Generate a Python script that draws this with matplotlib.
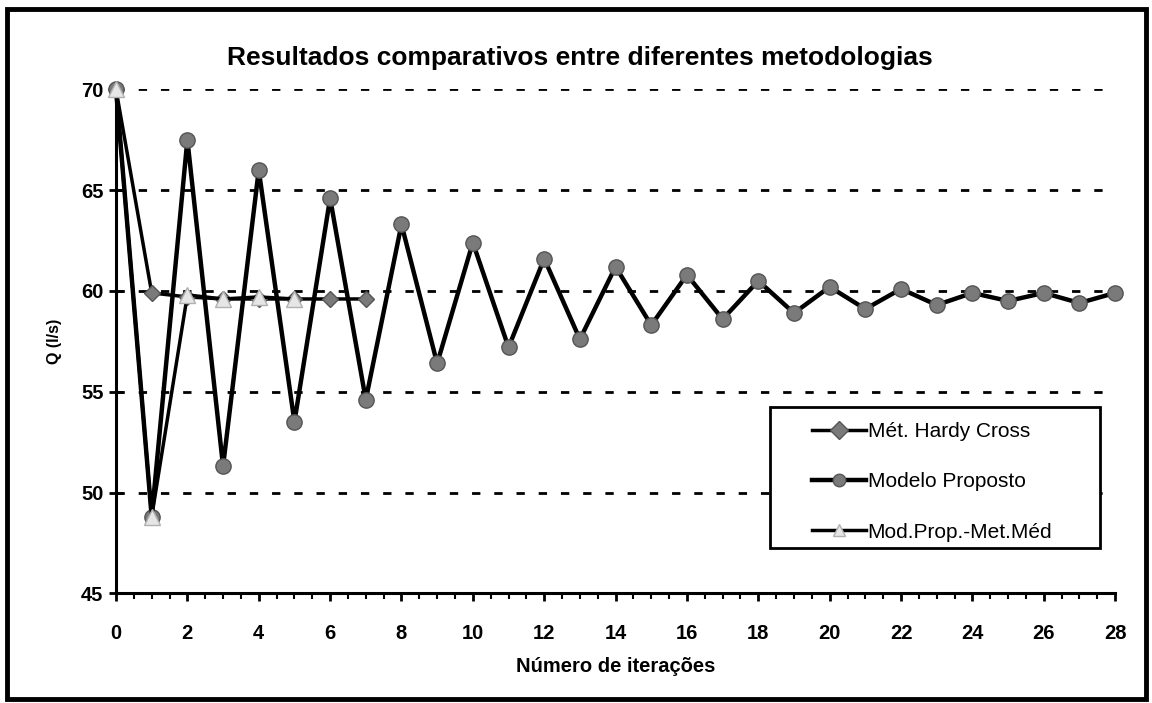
import matplotlib
matplotlib.use("Agg")
import matplotlib.pyplot as plt
from matplotlib.patches import Rectangle

plt.rcParams['font.family'] = ['Liberation Sans', 'DejaVu Sans']

title = "Resultados comparativos entre diferentes metodologias"
xlabel = "Número de iterações"
ylabel = "Q (l/s)"

x_hc = [0, 1, 2, 3, 4, 5, 6, 7]
y_hc = [70.0, 59.9, 59.7, 59.6, 59.6, 59.6, 59.6, 59.6]

x_mp = list(range(29))
y_mp = [70.0, 48.8, 67.5, 51.3, 66.0, 53.5, 64.6, 54.6, 63.3, 56.4,
        62.4, 57.2, 61.6, 57.6, 61.2, 58.3, 60.8, 58.6, 60.5, 58.9,
        60.2, 59.1, 60.1, 59.3, 59.9, 59.5, 59.9, 59.4, 59.9]

x_mm = [0, 1, 2, 3, 4, 5]
y_mm = [70.0, 48.8, 59.8, 59.6, 59.7, 59.6]

labels = ["Mét. Hardy Cross", "Modelo Proposto", "Mod.Prop.-Met.Méd"]

fig = plt.figure(figsize=(11.52, 7.03), dpi=100)
ax = fig.add_axes([0.1007, 0.156, 0.8673, 0.717])

ax.plot(x_hc, y_hc, color='black', lw=2.5, marker='D', markersize=8,
        markerfacecolor='#7a7a7a', markeredgecolor='#555555', label=labels[0],
        zorder=3, clip_on=False)
ax.plot(x_mp, y_mp, color='black', lw=3.2, marker='o', markersize=11,
        markerfacecolor='#7a7a7a', markeredgecolor='#555555', label=labels[1],
        zorder=4, clip_on=False)
ax.plot(x_mm, y_mm, color='black', lw=2.5, marker='^', markersize=11,
        markerfacecolor='#e6e6e6', markeredgecolor='#b0b0b0', label=labels[2],
        zorder=5, clip_on=False)

ax.set_xlim(0, 28)
ax.set_ylim(45, 70)
ax.set_xticks(range(0, 29, 2))
ax.set_xticks([i * 0.5 for i in range(57)], minor=True)
ax.set_yticks([45, 50, 55, 60, 65, 70])

for s in ['top', 'right']:
    ax.spines[s].set_visible(False)
for s in ['left', 'bottom']:
    ax.spines[s].set_linewidth(2.2)
    ax.spines[s].set_clip_on(False)

ax.tick_params(axis='x', which='major', direction='out', length=6, width=2, labelsize=14.5, pad=16)
ax.tick_params(axis='x', which='minor', direction='out', length=4, width=1.5)
ax.tick_params(axis='y', which='major', direction='inout', length=10, width=2, labelsize=14.5, pad=4)
for lab in ax.get_xticklabels() + ax.get_yticklabels():
    lab.set_fontweight('bold')

ax.yaxis.grid(True, linestyle=(0, (3, 5)), color='black', lw=2)
ax.set_axisbelow(True)

fig.text(0.503, 0.918, title, fontsize=19, fontweight='bold', ha='center', va='center')
ax.set_xlabel(xlabel, fontsize=14.5, fontweight='bold', labelpad=10)
ax.set_ylabel(ylabel, fontsize=11.5, fontweight='bold', labelpad=14)

# legend frame drawn separately for exact placement
ax.add_patch(Rectangle((0.6547, 0.0899), 0.3303, 0.2797, transform=ax.transAxes,
                       facecolor='white', edgecolor='black', lw=2, zorder=6, clip_on=False))
leg = ax.legend(loc='center left', bbox_to_anchor=(0.697, 0.221),
                fontsize=15, frameon=False, handlelength=2.55, labelspacing=1.5,
                borderpad=0, handletextpad=0.1, borderaxespad=0)
leg.set_zorder(7)
for h in leg.legend_handles:
    h.set_markersize(9)

fig.patches.append(Rectangle((0.006, 0.006), 0.989, 0.981, transform=fig.transFigure,
                             fill=False, edgecolor='black', lw=3.5))

fig.savefig("out.png", dpi=100)
